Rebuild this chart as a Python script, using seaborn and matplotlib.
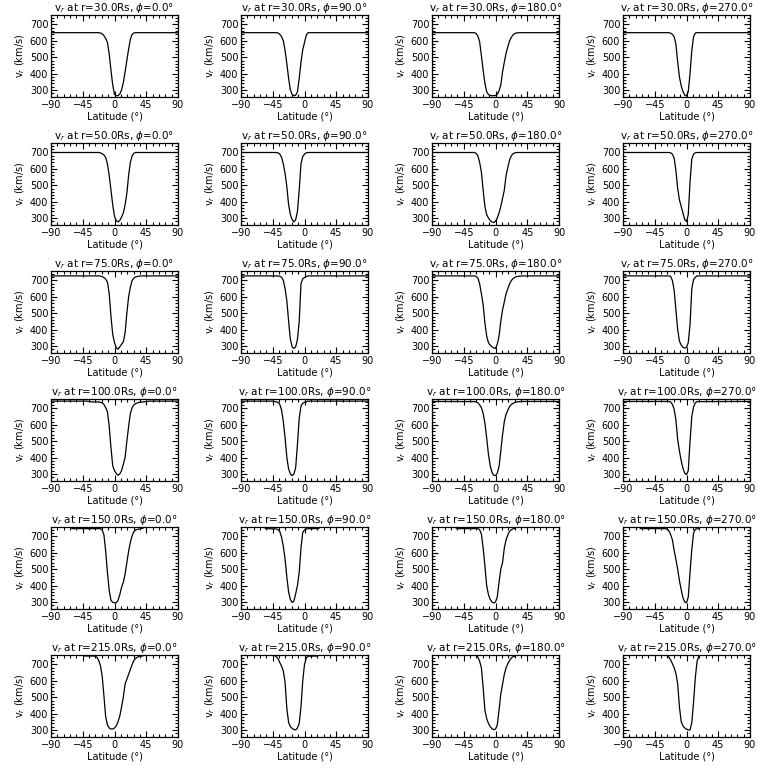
import matplotlib
matplotlib.use("Agg")
import matplotlib.pyplot as plt
import seaborn as sns
import pandas as pd
from matplotlib.ticker import MultipleLocator

sns.set_style("ticks")
plt.rcParams['font.family'] = ['DejaVu Sans']
plt.rcParams['mathtext.fontset'] = 'dejavusans'
for key in ['text.color', 'axes.labelcolor', 'xtick.color', 'ytick.color', 'axes.edgecolor']:
    plt.rcParams[key] = 'black'

R_VALUES = [30, 50, 75, 100, 150, 215]
PHI_VALUES = [0, 90, 180, 270]
X_TICKS = [-90, -45, 0, 45, 90]
Y_TICKS = [300, 400, 500, 600, 700]
Y_LIM = (257, 758)

# ---- r = 30 Rs ----
lat_30_0 = [-90, -22.5, -20, -17.5, -15, -12.5, -10, -7.5, -5, -2.5, 0, 2.5, 5, 7.5, 10, 12.5, 15, 17.5, 20, 22.5, 25, 27.5, 30, 90]
v_30_0 = [650, 650, 648, 643, 632, 615, 590, 520, 420, 330, 272, 265, 266, 275, 300, 345, 410, 480, 550, 610, 640, 648, 650, 650]
lat_30_90 = [-90, -40, -37.5, -35, -32.5, -30, -27.5, -25, -22.5, -20, -17.5, -15, -12.5, -10, -7.5, -5, -2.5, 0, 2.5, 5, 90]
v_30_90 = [650, 650, 648, 640, 625, 600, 540, 460, 370, 300, 272, 265, 268, 290, 370, 470, 545, 590, 635, 650, 650]
lat_30_180 = [-90, -30, -27.5, -25, -22.5, -20, -17.5, -15, -12.5, -10, -7.5, -5, -2.5, 0, 2.5, 5, 7.5, 10, 12.5, 15, 17.5, 20, 22.5, 25, 27.5, 30, 35, 90]
v_30_180 = [650, 650, 645, 630, 595, 510, 420, 340, 290, 272, 266, 265, 265, 266, 272, 295, 330, 410, 470, 525, 565, 600, 622, 637, 645, 649, 650, 650]
lat_30_270 = [-90, -25, -22.5, -20, -17.5, -15, -12.5, -10, -7.5, -5, -2.5, 0, 2.5, 5, 7.5, 10, 12.5, 15, 90]
v_30_270 = [650, 650, 647, 640, 625, 580, 470, 380, 325, 290, 268, 263, 290, 400, 540, 625, 648, 650, 650]

# ---- r = 50 Rs ----
lat_50_0 = [-90, -22.5, -20, -17.5, -15, -12.5, -10, -7.5, -5, -2.5, 0, 2.5, 5, 7.5, 10, 12.5, 15, 17.5, 20, 22.5, 25, 27.5, 30, 90]
v_50_0 = [700, 700, 698, 693, 685, 670, 630, 560, 470, 380, 310, 283, 276, 285, 305, 330, 380, 450, 560, 640, 680, 695, 700, 700]
lat_50_90 = [-90, -40, -37.5, -35, -32.5, -30, -27.5, -25, -22.5, -20, -17.5, -15, -12.5, -10, -7.5, -5, -2.5, 0, 2.5, 5, 90]
v_50_90 = [700, 700, 698, 690, 670, 630, 570, 490, 380, 320, 290, 276, 290, 340, 470, 630, 675, 690, 698, 700, 700]
lat_50_180 = [-90, -30, -27.5, -25, -22.5, -20, -17.5, -15, -12.5, -10, -7.5, -5, -2.5, 0, 2.5, 5, 7.5, 10, 12.5, 15, 17.5, 20, 22.5, 25, 27.5, 30, 90]
v_50_180 = [700, 700, 695, 680, 640, 580, 470, 370, 320, 300, 285, 275, 272, 280, 300, 330, 370, 420, 470, 560, 610, 655, 680, 693, 698, 700, 700]
lat_50_270 = [-90, -25, -22.5, -20, -17.5, -15, -12.5, -10, -7.5, -5, -2.5, 0, 2.5, 5, 7.5, 10, 12.5, 15, 90]
v_50_270 = [700, 700, 698, 690, 665, 590, 480, 410, 370, 330, 290, 278, 320, 520, 660, 690, 698, 700, 700]

# ---- r = 75 Rs ----
lat_75_0 = [-90, -22.5, -20, -17.5, -15, -12.5, -10, -7.5, -5, -2.5, 0, 2.5, 5, 7.5, 10, 12.5, 15, 17.5, 20, 22.5, 25, 27.5, 30, 35, 40, 90]
v_75_0 = [728, 728, 727, 724, 718, 708, 690, 620, 480, 370, 320, 290, 280, 295, 310, 325, 380, 500, 600, 660, 700, 715, 722, 727, 728, 728]
lat_75_90 = [-90, -40, -35, -32.5, -30, -27.5, -25, -22.5, -20, -17.5, -15, -12.5, -10, -7.5, -5, -2.5, 0, 2.5, 5, 90]
v_75_90 = [728, 728, 726, 720, 700, 650, 575, 450, 340, 295, 285, 295, 340, 450, 680, 710, 718, 724, 728, 728]
lat_75_180 = [-90, -30, -27.5, -25, -22.5, -20, -17.5, -15, -12.5, -10, -7.5, -5, -2.5, 0, 2.5, 5, 7.5, 10, 12.5, 15, 17.5, 20, 22.5, 25, 27.5, 30, 35, 40, 90]
v_75_180 = [728, 728, 725, 715, 680, 620, 550, 440, 360, 320, 305, 295, 288, 285, 310, 360, 450, 520, 570, 620, 650, 680, 700, 712, 720, 724, 727, 728, 728]
lat_75_270 = [-90, -25, -22.5, -20, -17.5, -15, -12.5, -10, -7.5, -5, -2.5, 0, 2.5, 5, 7.5, 10, 12.5, 15, 90]
v_75_270 = [728, 728, 725, 700, 640, 520, 400, 330, 305, 292, 287, 292, 320, 430, 650, 705, 720, 728, 728]

# ---- r = 100 Rs ----
lat_100_0 = [-90, -40, -35, -30, -22.5, -20, -17.5, -15, -12.5, -10, -7.5, -5, -2.5, 0, 2.5, 5, 7.5, 10, 12.5, 15, 17.5, 20, 22.5, 25, 27.5, 30, 35, 40, 45, 50, 90]
v_100_0 = [745, 745, 742, 740, 740, 738, 735, 725, 705, 680, 590, 460, 350, 320, 303, 292, 300, 320, 360, 400, 500, 590, 670, 705, 722, 730, 738, 740, 742, 745, 745]
lat_100_90 = [-90, -45, -40, -37.5, -35, -32.5, -30, -27.5, -25, -22.5, -20, -17.5, -15, -12.5, -10, -7.5, -5, -2.5, 0, 2.5, 5, 90]
v_100_90 = [745, 745, 740, 738, 725, 690, 620, 520, 400, 330, 300, 290, 300, 340, 480, 640, 715, 732, 738, 740, 745, 745]
lat_100_180 = [-90, -30, -27.5, -25, -22.5, -20, -17.5, -15, -12.5, -10, -7.5, -5, -2.5, 0, 2.5, 5, 7.5, 10, 12.5, 15, 17.5, 20, 22.5, 25, 27.5, 30, 35, 40, 90]
v_100_180 = [743, 742, 740, 735, 722, 705, 670, 610, 520, 420, 350, 310, 292, 290, 305, 345, 440, 540, 620, 665, 690, 712, 725, 732, 737, 740, 742, 743, 743]
lat_100_270 = [-90, -25, -22.5, -20, -17.5, -15, -12.5, -10, -7.5, -5, -2.5, 0, 2.5, 5, 7.5, 10, 12.5, 15, 90]
v_100_270 = [743, 743, 740, 725, 695, 630, 510, 440, 380, 335, 305, 296, 320, 500, 650, 710, 735, 742, 743]

# ---- r = 150 Rs ----
lat_150_0 = [-90, -62.5, -60, -20, -17.5, -15, -12.5, -10, -7.5, -5, -2.5, 0, 2.5, 5, 7.5, 10, 12.5, 15, 17.5, 20, 22.5, 25, 27.5, 30, 35, 40, 42.5, 90]
v_150_0 = [760, 760, 748, 748, 740, 710, 610, 480, 370, 310, 298, 295, 295, 310, 345, 390, 420, 470, 540, 610, 665, 705, 730, 740, 746, 750, 760, 760]
lat_150_90 = [-90, -57.5, -55, -40, -37.5, -35, -32.5, -30, -27.5, -25, -22.5, -20, -17.5, -15, -12.5, -10, -7.5, -5, -2.5, 0, 2.5, 5, 20, 22.5, 90]
v_150_90 = [760, 760, 748, 746, 742, 730, 695, 640, 560, 450, 360, 315, 297, 305, 350, 400, 480, 630, 725, 740, 745, 748, 748, 760, 760]
lat_150_180 = [-90, -57.5, -55, -25, -22.5, -20, -17.5, -15, -12.5, -10, -7.5, -5, -2.5, 0, 2.5, 5, 7.5, 10, 12.5, 15, 17.5, 20, 22.5, 25, 27.5, 30, 90]
v_150_180 = [760, 760, 748, 748, 742, 715, 630, 520, 400, 345, 315, 300, 294, 300, 330, 420, 500, 540, 630, 680, 710, 732, 742, 747, 750, 760, 760]
lat_150_270 = [-90, -67.5, -65, -30, -27.5, -25, -22.5, -20, -17.5, -15, -12.5, -10, -7.5, -5, -2.5, 0, 2.5, 5, 7.5, 10, 12.5, 17.5, 20, 90]
v_150_270 = [760, 760, 748, 748, 745, 735, 712, 680, 615, 560, 500, 430, 375, 325, 300, 295, 330, 480, 620, 720, 745, 748, 760, 760]

# ---- r = 215 Rs ----
lat_215_0 = [-90, -45, -42.5, -30, -27.5, -25, -22.5, -20, -17.5, -15, -12.5, -10, -7.5, -5, -2.5, 0, 2.5, 5, 7.5, 10, 12.5, 15, 17.5, 20, 22.5, 25, 27.5, 30, 35, 40, 42.5, 90]
v_215_0 = [760, 760, 752, 752, 750, 745, 725, 695, 630, 510, 380, 330, 312, 306, 306, 312, 325, 350, 385, 440, 500, 580, 610, 640, 670, 700, 725, 738, 750, 752, 760, 760]
lat_215_90 = [-90, -45, -42.5, -40, -37.5, -35, -32.5, -30, -27.5, -25, -22.5, -20, -17.5, -15, -12.5, -10, -7.5, -5, -2.5, 0, 2.5, 5, 17.5, 20, 90]
v_215_90 = [760, 760, 755, 748, 735, 712, 690, 660, 590, 430, 345, 320, 310, 303, 300, 312, 340, 440, 600, 700, 740, 751, 752, 760, 760]
lat_215_180 = [-90, -30, -27.5, -25, -22.5, -20, -17.5, -15, -12.5, -10, -7.5, -5, -2.5, 0, 2.5, 5, 7.5, 10, 12.5, 15, 17.5, 20, 22.5, 25, 27.5, 30, 90]
v_215_180 = [760, 760, 755, 745, 720, 680, 560, 420, 370, 340, 320, 308, 302, 305, 330, 420, 520, 580, 640, 680, 705, 725, 740, 748, 751, 760, 760]
lat_215_270 = [-90, -30, -27.5, -25, -22.5, -20, -17.5, -15, -12.5, -10, -7.5, -5, -2.5, 0, 2.5, 5, 7.5, 10, 12.5, 15, 17.5, 20, 90]
v_215_270 = [760, 760, 757, 745, 728, 705, 680, 645, 580, 440, 350, 325, 312, 305, 300, 300, 345, 470, 620, 720, 750, 760, 760]

SERIES = {
    (30, 0): (lat_30_0, v_30_0), (30, 90): (lat_30_90, v_30_90),
    (30, 180): (lat_30_180, v_30_180), (30, 270): (lat_30_270, v_30_270),
    (50, 0): (lat_50_0, v_50_0), (50, 90): (lat_50_90, v_50_90),
    (50, 180): (lat_50_180, v_50_180), (50, 270): (lat_50_270, v_50_270),
    (75, 0): (lat_75_0, v_75_0), (75, 90): (lat_75_90, v_75_90),
    (75, 180): (lat_75_180, v_75_180), (75, 270): (lat_75_270, v_75_270),
    (100, 0): (lat_100_0, v_100_0), (100, 90): (lat_100_90, v_100_90),
    (100, 180): (lat_100_180, v_100_180), (100, 270): (lat_100_270, v_100_270),
    (150, 0): (lat_150_0, v_150_0), (150, 90): (lat_150_90, v_150_90),
    (150, 180): (lat_150_180, v_150_180), (150, 270): (lat_150_270, v_150_270),
    (215, 0): (lat_215_0, v_215_0), (215, 90): (lat_215_90, v_215_90),
    (215, 180): (lat_215_180, v_215_180), (215, 270): (lat_215_270, v_215_270),
}

W = H = 768
fig = plt.figure(figsize=(7.68, 7.68), dpi=100)
fig.patch.set_facecolor('white')

col_left = [51, 241, 432, 623]
row_top = [15, 143, 271, 399, 527, 655]
ax_w, ax_h = 127, 82
FS = 7

for i, r in enumerate(R_VALUES):
    for j, phi in enumerate(PHI_VALUES):
        x0 = col_left[j] / W
        y0 = 1 - (row_top[i] + ax_h) / H
        ax = fig.add_axes([x0, y0, ax_w / W, ax_h / H])
        lat, v = SERIES[(r, phi)]
        df = pd.DataFrame({'lat': lat, 'v': v})
        sns.lineplot(data=df, x='lat', y='v', ax=ax, color='black',
                     linewidth=0.9, estimator=None, sort=False)
        ax.set_xlim(-90, 90)
        ax.set_ylim(*Y_LIM)
        ax.set_xticks(X_TICKS)
        ax.set_xticklabels([str(t).replace('-', '\u2212') for t in X_TICKS],
                           fontsize=FS, color='black')
        ax.set_yticks(Y_TICKS)
        ax.set_yticklabels([str(t) for t in Y_TICKS], fontsize=FS, color='black')
        ax.xaxis.set_minor_locator(MultipleLocator(9))
        ax.yaxis.set_minor_locator(MultipleLocator(20))
        ax.tick_params(which='both', direction='in', top=True, right=True,
                       color='black', width=0.8, pad=2)
        ax.tick_params(which='major', length=4)
        ax.tick_params(which='minor', length=2)
        for s in ax.spines.values():
            s.set_visible(True)
            s.set_linewidth(0.9)
            s.set_color('black')
        ax.set_title(f"v$_r$ at r={r:.1f}Rs, $\\phi$={phi:.1f}°",
                     fontsize=FS + 0.5, pad=2, color='black')
        ax.set_xlabel("Latitude (°)", fontsize=FS, labelpad=1, color='black')
        ax.set_ylabel("v$_r$ (km/s)", fontsize=FS, labelpad=2, color='black')
        ax.set_facecolor('white')

fig.savefig("out.png", dpi=100, facecolor='white')
